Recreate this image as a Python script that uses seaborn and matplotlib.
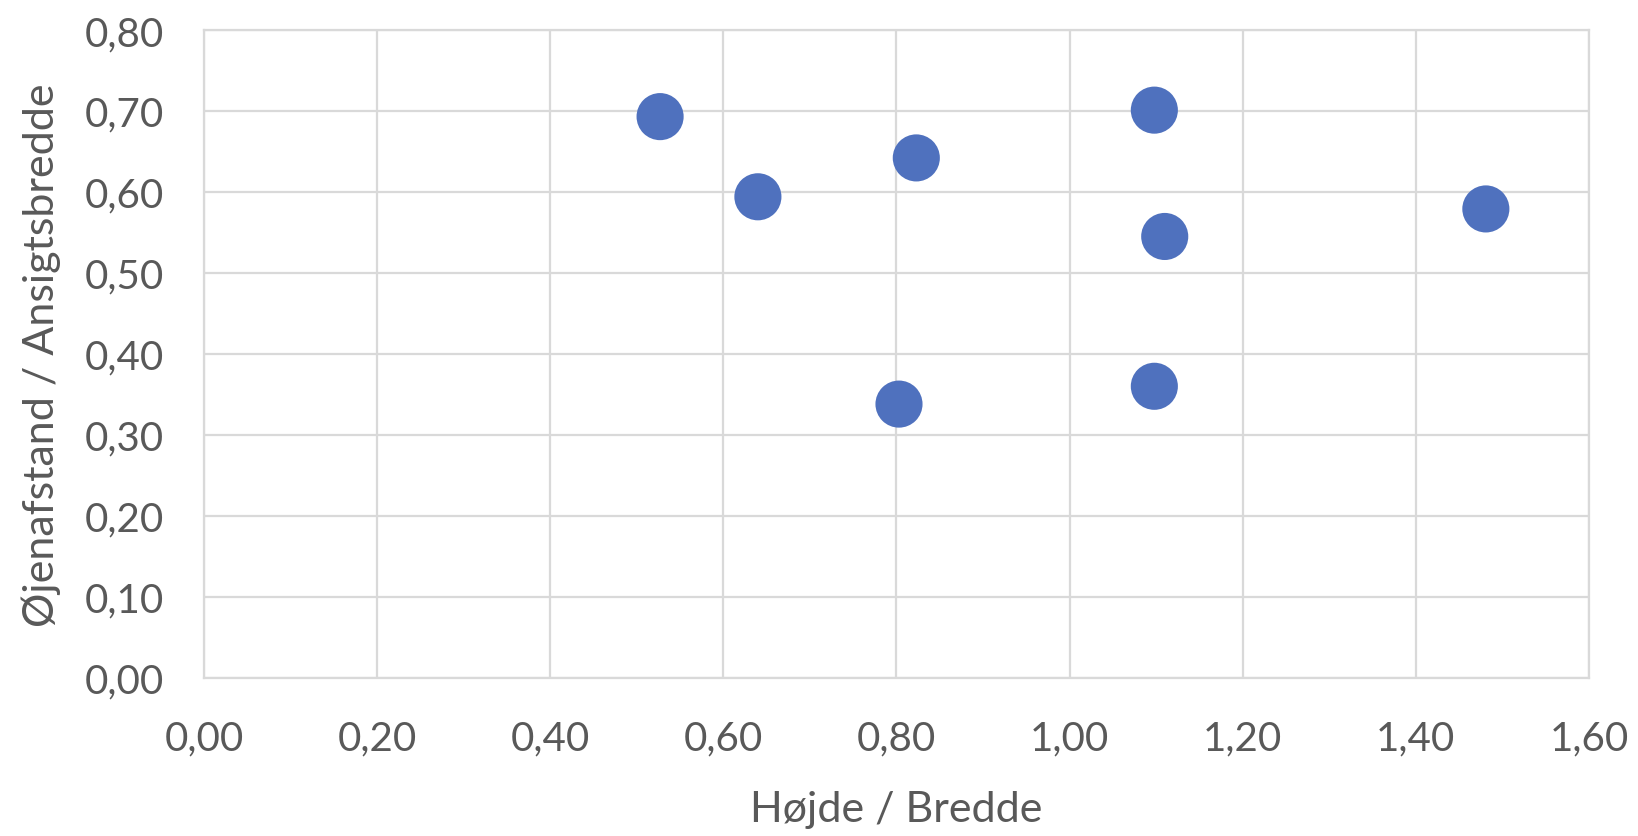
import matplotlib
matplotlib.use("Agg")
import matplotlib.pyplot as plt
import seaborn as sns
import pandas as pd
from matplotlib.ticker import FuncFormatter, MultipleLocator

# Face proportions: height/width ratio vs. eye distance / face width
hoejde_bredde = [0.527, 0.640, 0.823, 0.803, 1.098, 1.110, 1.098, 1.481]
oejenafstand_ansigt = [0.693, 0.594, 0.642, 0.338, 0.701, 0.545, 0.360, 0.579]

x_label = "Højde / Bredde"
y_label = "Øjenafstand / Ansigtsbredde"

df = pd.DataFrame({"x": hoejde_bredde, "y": oejenafstand_ansigt})

sns.set_theme(style="white")
plt.rcParams["font.family"] = ["Lato", "DejaVu Sans"]

text_color = "#595959"
grid_color = "#D9D9D9"
point_color = "#4F71BE"

fig = plt.figure(figsize=(16.38, 8.37), dpi=100)
ax = fig.add_axes([0.1245, 0.189, 0.8455, 0.774])

sns.scatterplot(data=df, x="x", y="y", ax=ax, s=1150, color=point_color,
                edgecolor="none", linewidth=0, zorder=3)

ax.set_xlim(0, 1.6)
ax.set_ylim(0, 0.8)
ax.xaxis.set_major_locator(MultipleLocator(0.2))
ax.yaxis.set_major_locator(MultipleLocator(0.1))
comma = FuncFormatter(lambda v, p: f"{v:.2f}".replace(".", ","))
ax.xaxis.set_major_formatter(comma)
ax.yaxis.set_major_formatter(comma)

ax.grid(True, color=grid_color, linewidth=1.6, zorder=0)
ax.set_axisbelow(True)
for side in ["top", "right", "left", "bottom"]:
    ax.spines[side].set_color(grid_color)
    ax.spines[side].set_linewidth(1.6)

ax.tick_params(axis="both", length=0, labelsize=29, colors=text_color)
ax.tick_params(axis="x", pad=30)
ax.tick_params(axis="y", pad=29)

ax.set_xlabel(x_label, fontsize=31, color=text_color, labelpad=24)
ax.set_ylabel(y_label, fontsize=31, color=text_color, labelpad=17)

fig.savefig("out.png", dpi=100)
